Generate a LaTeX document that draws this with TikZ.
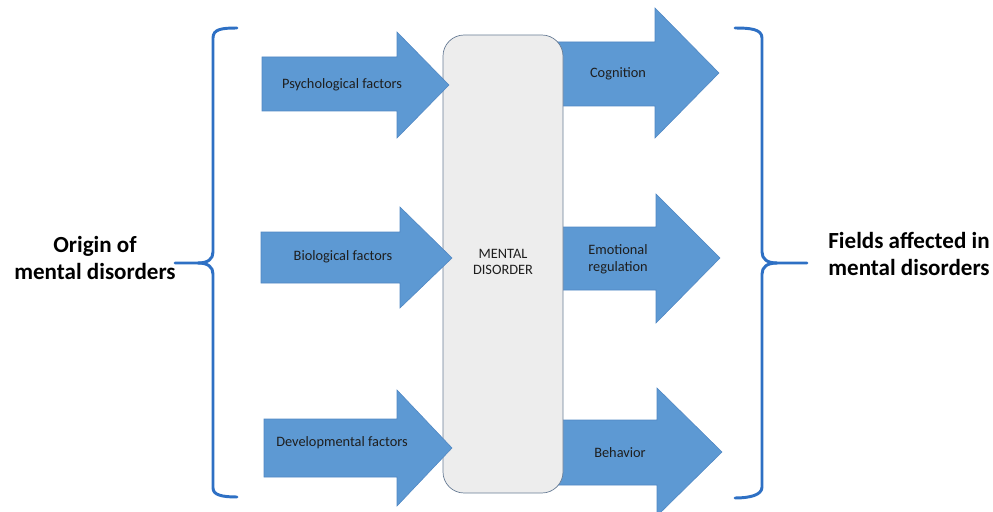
\documentclass[tikz,border=0pt]{standalone}
\usepackage{fontspec}
\setmainfont{Carlito}
\usetikzlibrary{arrows, arrows.meta}
\definecolor{braceblue}{RGB}{46,112,196}
\definecolor{arrowblue}{RGB}{93,153,211}
\definecolor{arrowedge}{RGB}{80,135,195}
\definecolor{boxgray}{RGB}{237,237,237}
\definecolor{boxedge}{RGB}{105,125,150}
\definecolor{txtgray}{RGB}{30,30,30}

\begin{document}
\begin{tikzpicture}[x=0.025cm, y=0.025cm]
\tikzstyle{every node}+=[inner sep=0pt, text=txtgray, align=center, font=\fontsize{10.2}{12}\selectfont]
\tikzstyle{brace}=[braceblue, line width=2.1pt, line cap=round, line join=round]
\tikzstyle{fat arrow}=[fill=arrowblue, draw=arrowedge, line width=0.4pt, line join=miter]
\tikzstyle{big label}=[font=\fontsize{16.4}{19.5}\selectfont\bfseries, text=black]
\useasboundingbox (0,0) rectangle (993,-512);
% braces
\draw [brace] (237,-28) .. controls (222,-28) and (213,-29) .. (213,-38) -- (213,-252) .. controls (213,-259) and (208,-263) .. (198,-263) -- (175,-263);
\draw [brace] (198,-263) .. controls (208,-263) and (213,-267) .. (213,-274) -- (213,-488) .. controls (213,-495) and (222,-497) .. (237,-497);
\draw [brace] (735,-28) .. controls (750,-28) and (762,-29) .. (762,-38) -- (762,-252) .. controls (762,-259) and (767,-263) .. (777,-263) -- (807,-263);
\draw [brace] (777,-263) .. controls (767,-263) and (762,-267) .. (762,-274) -- (762,-487) .. controls (762,-495) and (750,-498) .. (735,-498);
\draw (95,-258) node [big label] (origin) {Origin of\\mental disorders};
\draw (909,-254) node [big label] (fields) {Fields affected in\\mental disorders};
% right arrows
\draw [fat arrow] (550,-42) -- (655,-42) -- (655,-8) -- (719,-73) -- (655,-138) -- (655,-106) -- (550,-106) -- cycle;
\draw [fat arrow] (550,-227) -- (656,-227) -- (656,-194) -- (720,-258) -- (656,-323) -- (656,-290) -- (550,-290) -- cycle;
\draw [fat arrow] (550,-420) -- (657,-420) -- (657,-388) -- (722,-452) -- (657,-516) -- (657,-485) -- (550,-485) -- cycle;
% centre box
\draw [fill=boxgray, draw=boxedge, line width=0.5pt, rounded corners=15pt] (443,-35) rectangle (563,-493);
\draw (503,-262) node (centre) {MENTAL\\DISORDER};
% left arrows
\draw [fat arrow] (262,-57) -- (397,-57) -- (397,-32) -- (449,-85) -- (397,-138) -- (397,-111) -- (262,-111) -- cycle;
\draw [fat arrow] (261,-232) -- (400,-232) -- (400,-207) -- (452,-258) -- (400,-308) -- (400,-283) -- (261,-283) -- cycle;
\draw [fat arrow] (264,-419) -- (397,-419) -- (397,-390) -- (452,-448) -- (397,-506) -- (397,-477) -- (264,-477) -- cycle;
% labels
\draw (342,-85) node (psych) {Psychological factors};
\draw (343,-257) node (bio) {Biological factors};
\draw (342,-443) node (devel) {Developmental factors};
\draw (618,-74) node (cogn) {Cognition};
\draw (618,-259) node (emot) {Emotional\\regulation};
\draw (620,-453) node (behav) {Behavior};
\end{tikzpicture}
\end{document}
